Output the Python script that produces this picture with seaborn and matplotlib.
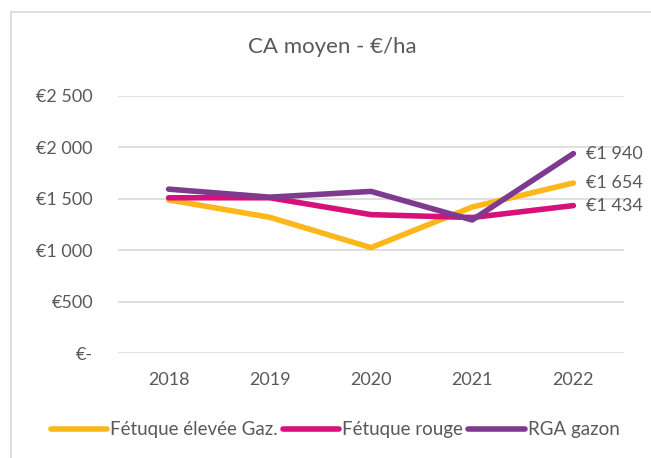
import matplotlib
matplotlib.use("Agg")
import matplotlib.pyplot as plt
import pandas as pd
import seaborn as sns
from matplotlib.patches import Rectangle
from matplotlib.ticker import FuncFormatter

years = ["2018", "2019", "2020", "2021", "2022"]
fetuque_elevee = [1490, 1320, 1025, 1420, 1654]
fetuque_rouge = [1510, 1510, 1346, 1318, 1434]
rga_gazon = [1594, 1516, 1572, 1294, 1940]
series_names = ["Fétuque élevée Gaz.", "Fétuque rouge", "RGA gazon"]
colors = ["#FDB71A", "#D6117A", "#7E3A8E"]
y_ticks = [0, 500, 1000, 1500, 2000, 2500]

df = pd.DataFrame({"year": years * 3,
                   "value": fetuque_elevee + fetuque_rouge + rga_gazon,
                   "series": [n for n in series_names for _ in years]})

sns.set_theme(style="white")
plt.rcParams["font.family"] = ["Lato", "DejaVu Sans"]
text_col = "#595959"

fig = plt.figure(figsize=(6.51, 4.58), dpi=100)
ax = fig.add_axes([118 / 651, 1 - 353 / 458, 506 / 651, 257 / 458])

sns.lineplot(data=df, x="year", y="value", hue="series", palette=colors,
             linewidth=4, ax=ax, sort=False, solid_capstyle="round")

ax.set_xlim(-0.5, 4.5)
ax.set_ylim(0, 2500)
ax.set_yticks(y_ticks)


def euro(v, pos):
    if v == 0:
        return "€-"
    return "€" + f"{int(v):,}".replace(",", " ")


ax.yaxis.set_major_formatter(FuncFormatter(euro))
ax.grid(axis="y", color="#d9d9d9", linewidth=1.2)
ax.set_axisbelow(True)
for s in ax.spines.values():
    s.set_visible(False)
ax.tick_params(axis="both", colors=text_col, labelsize=13, length=0)
ax.tick_params(axis="y", pad=18)
ax.tick_params(axis="x", pad=14)
ax.set_xlabel("")
ax.set_ylabel("")

for vals in [rga_gazon, fetuque_elevee, fetuque_rouge]:
    ax.annotate("€" + f"{vals[-1]:,}".replace(",", " "), (4, vals[-1]),
                xytext=(9, 0), textcoords="offset points", va="center",
                ha="left", fontsize=13, color=text_col)

fig.text(332 / 651, 1 - 47 / 458, "CA moyen - €/ha", ha="center", va="center",
         fontsize=16, color=text_col)

handles, labels = ax.get_legend_handles_labels()
for h in handles:
    h.set_solid_capstyle("round")
ax.legend(handles, labels, loc="center", bbox_to_anchor=(335 / 651, 1 - 430 / 458),
          bbox_transform=fig.transFigure, ncol=3, frameon=False, fontsize=13.5,
          handlelength=3.0, handletextpad=0.15, columnspacing=0.3,
          labelcolor=text_col, borderaxespad=0, borderpad=0)

fig.patches.append(Rectangle((11 / 651, -0.1), 1.2, 1.1 - 12 / 458,
                             transform=fig.transFigure, fill=False,
                             edgecolor="#d9d9d9", linewidth=1.2))

fig.savefig("out.png", dpi=100)
